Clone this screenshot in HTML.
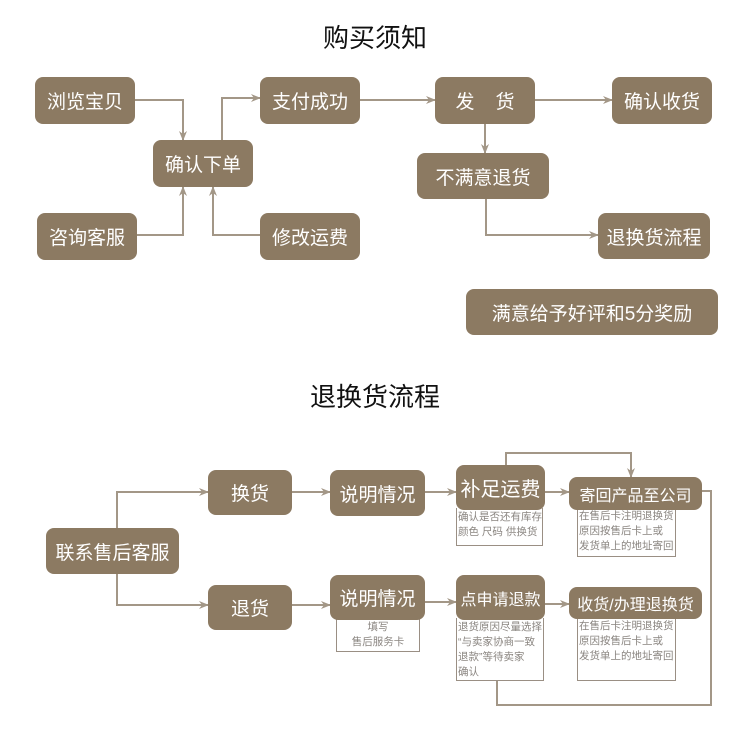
<!DOCTYPE html>
<html><head><meta charset="utf-8"><style>
body{margin:0;width:750px;height:741px;background:#fff;position:relative;overflow:hidden;font-family:"Liberation Sans","Noto Sans CJK SC",sans-serif}
.b{position:absolute;background:#8c7a62;color:#fff;border-radius:8px;display:flex;align-items:center;justify-content:center;font-size:19px;white-space:nowrap}
.t{position:absolute;font-size:26px;color:#111;width:750px;text-align:center;left:0}
.n{position:absolute;border:1.5px solid #9a8f84;border-top:none;background:#fff;font-size:10.5px;color:#8a8580;line-height:15px;padding:2px 1px;box-sizing:border-box;white-space:nowrap;overflow:hidden}
svg{position:absolute;left:0;top:0}
</style></head><body>
<svg width="750" height="741">
<defs><marker id="a" markerWidth="10" markerHeight="10" refX="9" refY="5" orient="auto" markerUnits="userSpaceOnUse"><path d="M0,1 L10,5 L0,9 L3,5z" fill="#a39787"/></marker></defs>
<g fill="none" stroke="#a39787" stroke-width="2">
<path d="M135,100 H183 V140" marker-end="url(#a)"/>
<path d="M137,235 H183 V187" marker-end="url(#a)"/>
<path d="M260,235 H213 V187" marker-end="url(#a)"/>
<path d="M222,140 V98 H260" marker-end="url(#a)"/>
<path d="M360,100 H435" marker-end="url(#a)"/>
<path d="M535,100 H612" marker-end="url(#a)"/>
<path d="M485,124 V153" marker-end="url(#a)"/>
<path d="M486,199 V235 H598" marker-end="url(#a)"/>
<path d="M117,528 V492 H208" marker-end="url(#a)"/>
<path d="M117,574 V605 H208" marker-end="url(#a)"/>
<path d="M292,492 H330" marker-end="url(#a)"/>
<path d="M292,605 H330" marker-end="url(#a)"/>
<path d="M425,492 H456" marker-end="url(#a)"/>
<path d="M425,602 H456" marker-end="url(#a)"/>
<path d="M545,492 H569" marker-end="url(#a)"/>
<path d="M545,604 H569" marker-end="url(#a)"/>
<path d="M506,465 V453 H631 V477" marker-end="url(#a)"/>
<path d="M702,491 H711 V705 H497 V681"/>
</g></svg>
<div class="t" style="top:18px">购买须知</div>
<div class="b" style="left:35px;top:77px;width:100px;height:47px">浏览宝贝</div>
<div class="b" style="left:153px;top:140px;width:100px;height:47px">确认下单</div>
<div class="b" style="left:260px;top:77px;width:100px;height:47px">支付成功</div>
<div class="b" style="left:37px;top:213px;width:100px;height:47px">咨询客服</div>
<div class="b" style="left:260px;top:213px;width:100px;height:47px">修改运费</div>
<div class="b" style="left:435px;top:77px;width:100px;height:47px">发&nbsp;&nbsp;&nbsp;&nbsp;货</div>
<div class="b" style="left:612px;top:77px;width:100px;height:47px">确认收货</div>
<div class="b" style="left:417px;top:153px;width:132px;height:46px">不满意退货</div>
<div class="b" style="left:598px;top:213px;width:112px;height:46px">退换货流程</div>
<div class="b" style="left:466px;top:289px;width:252px;height:46px">满意给予好评和5分奖励</div>
<div class="t" style="top:377px">退换货流程</div>
<div class="b" style="left:46px;top:528px;width:133px;height:46px">联系售后客服</div>
<div class="b" style="left:208px;top:470px;width:84px;height:45px">换货</div>
<div class="b" style="left:208px;top:585px;width:84px;height:45px">退货</div>
<div class="b" style="left:330px;top:470px;width:95px;height:46px">说明情况</div>
<div class="n" style="left:336px;top:618px;width:84px;height:34px;text-align:center">填写<br>售后服务卡</div>
<div class="b" style="left:330px;top:575px;width:95px;height:45px">说明情况</div>
<div class="n" style="left:456px;top:508px;width:87px;height:38px">确认是否还有库存<br>颜色 尺码 供换货</div>
<div class="b" style="left:456px;top:465px;width:89px;height:45px;font-size:20px">补足运费</div>
<div class="n" style="left:577px;top:507px;width:99px;height:50px">在售后卡注明退换货<br>原因按售后卡上或<br>发货单上的地址寄回</div>
<div class="b" style="left:569px;top:477px;width:133px;height:33px;font-size:16px">寄回产品至公司</div>
<div class="n" style="left:456px;top:618px;width:88px;height:63px">退货原因尽量选择<br>“与卖家协商一致<br>退款”等待卖家<br>确认</div>
<div class="b" style="left:456px;top:575px;width:89px;height:45px;font-size:16px">点申请退款</div>
<div class="n" style="left:577px;top:617px;width:99px;height:64px">在售后卡注明退换货<br>原因按售后卡上或<br>发货单上的地址寄回</div>
<div class="b" style="left:569px;top:587px;width:133px;height:32px;font-size:16px">收货/办理退换货</div>
</body></html>
